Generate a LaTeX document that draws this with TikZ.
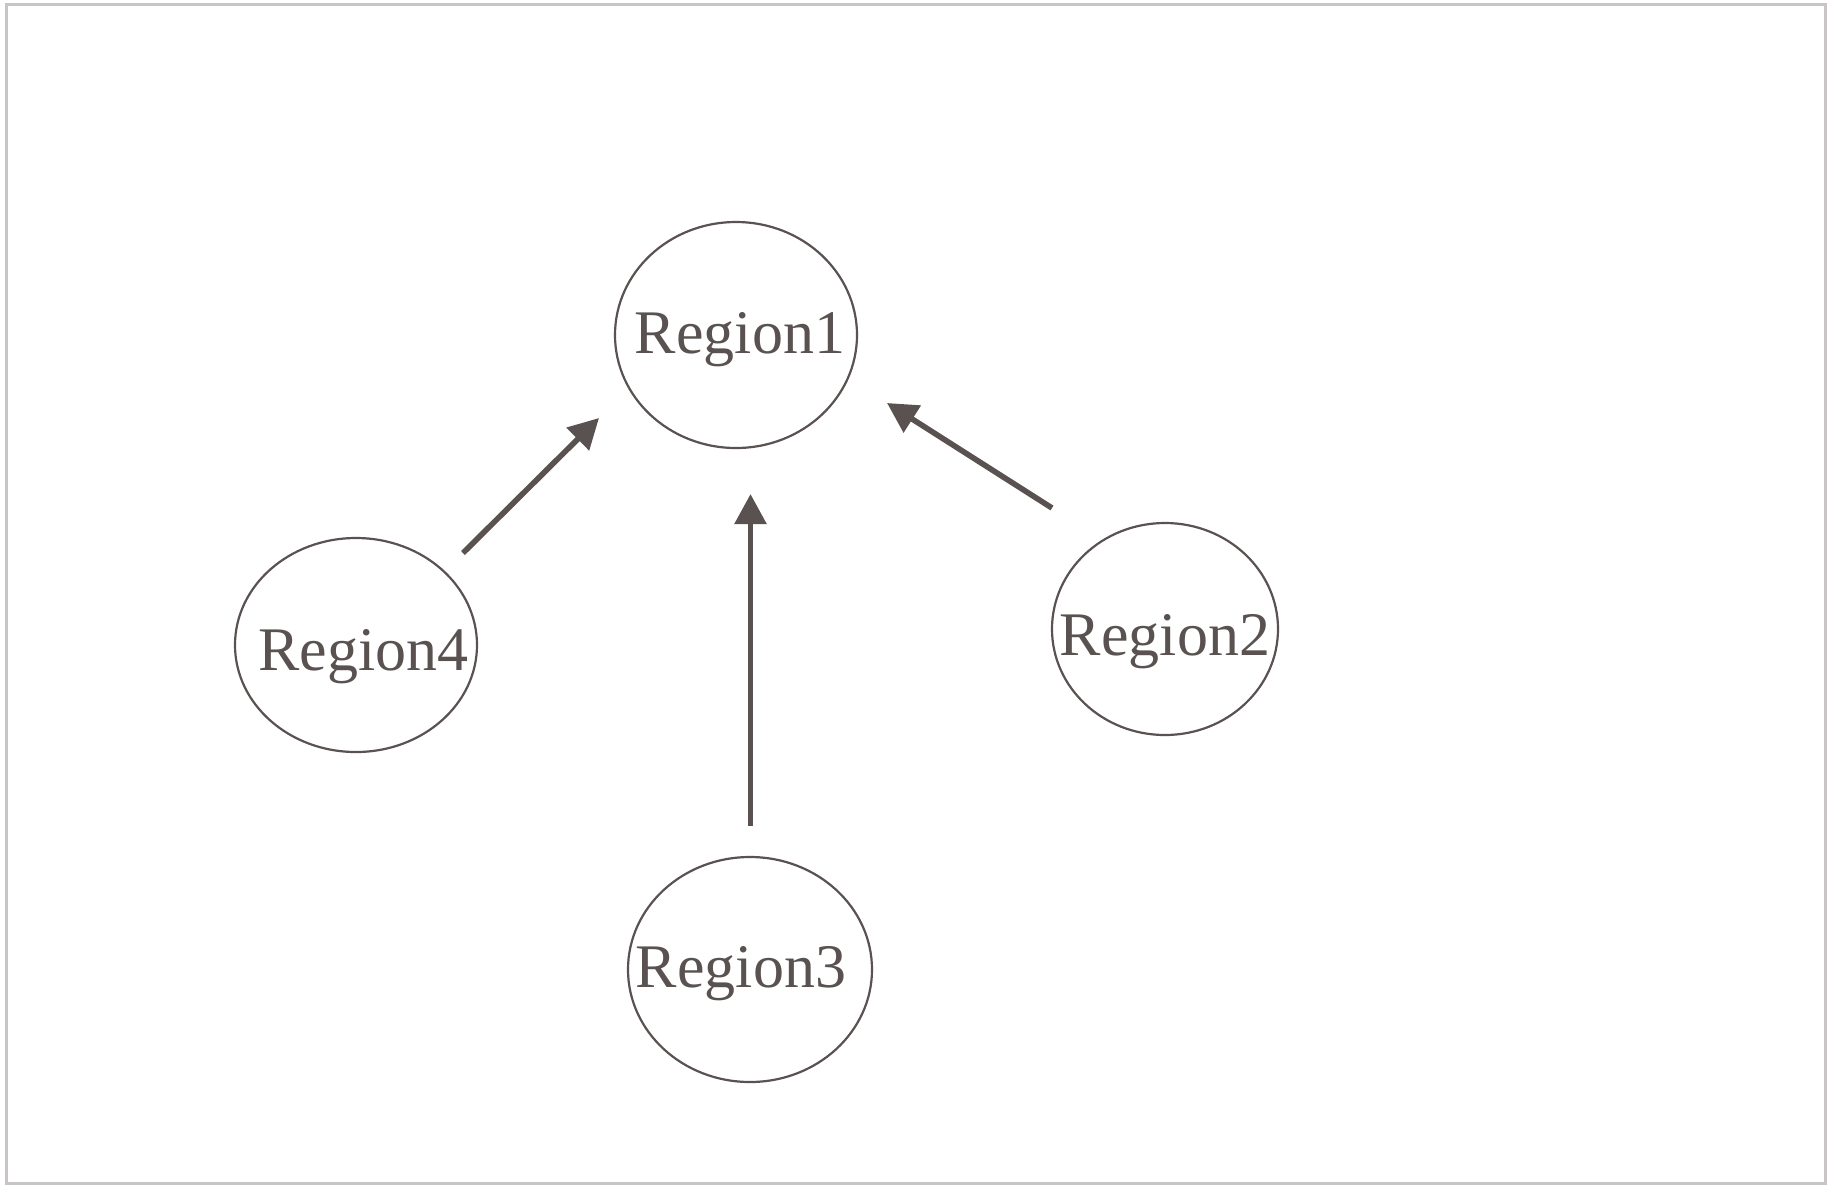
\documentclass[tikz,border=0pt]{standalone}
\usepackage{fontspec}
\setmainfont{Liberation Serif}
\usetikzlibrary{arrows.meta,shapes.geometric}
\definecolor{ink}{HTML}{595250}
\definecolor{rulegray}{HTML}{CAC5C5}
\tikzset{
  region/.style={draw=ink, line width=1.1pt, ellipse, inner sep=0pt},
  tag/.style={text=ink, font=\fontsize{31}{31}\selectfont, anchor=base, inner sep=0pt},
  flow/.style={color=ink, line width=2.8pt, -{Triangle[length=15pt,width=15.5pt]}}
}
\begin{document}
\begin{tikzpicture}[x=0.5pt,y=-0.5pt]
      \useasboundingbox (0,0) rectangle (1827,1185);
      \draw[rulegray, line width=1.5pt] (6,4.5) rectangle (1825.5,1183.5);
      \node[region, minimum width=121pt, minimum height=113pt] (r1) at (736,335) {};
      \node[region, minimum width=113pt, minimum height=106pt] (r2) at (1165,629) {};
      \node[region, minimum width=122pt, minimum height=112.5pt] (r3) at (750,969.5) {};
      \node[region, minimum width=121pt, minimum height=107pt] (r4) at (356,645) {};
      \node[tag] (t1) at (740,353) {Region1};
      \node[tag] (t2) at (1165,655) {Region2};
      \node[tag] (t3) at (741,987) {Region3};
      \node[tag] (t4) at (363.5,670) {Region4};
      \coordinate (s2) at (1052,508);
      \coordinate (e2) at (887,403);
      \coordinate (s3) at (750.5,826);
      \coordinate (e3) at (750.5,494);
      \coordinate (s4) at (463,553);
      \coordinate (e4) at (599,418);
      \begin{scope}[flow]
        \draw (s2) -- (e2);
        \draw (s3) -- (e3);
        \draw (s4) -- (e4);
      \end{scope}
    \end{tikzpicture}
\end{document}
